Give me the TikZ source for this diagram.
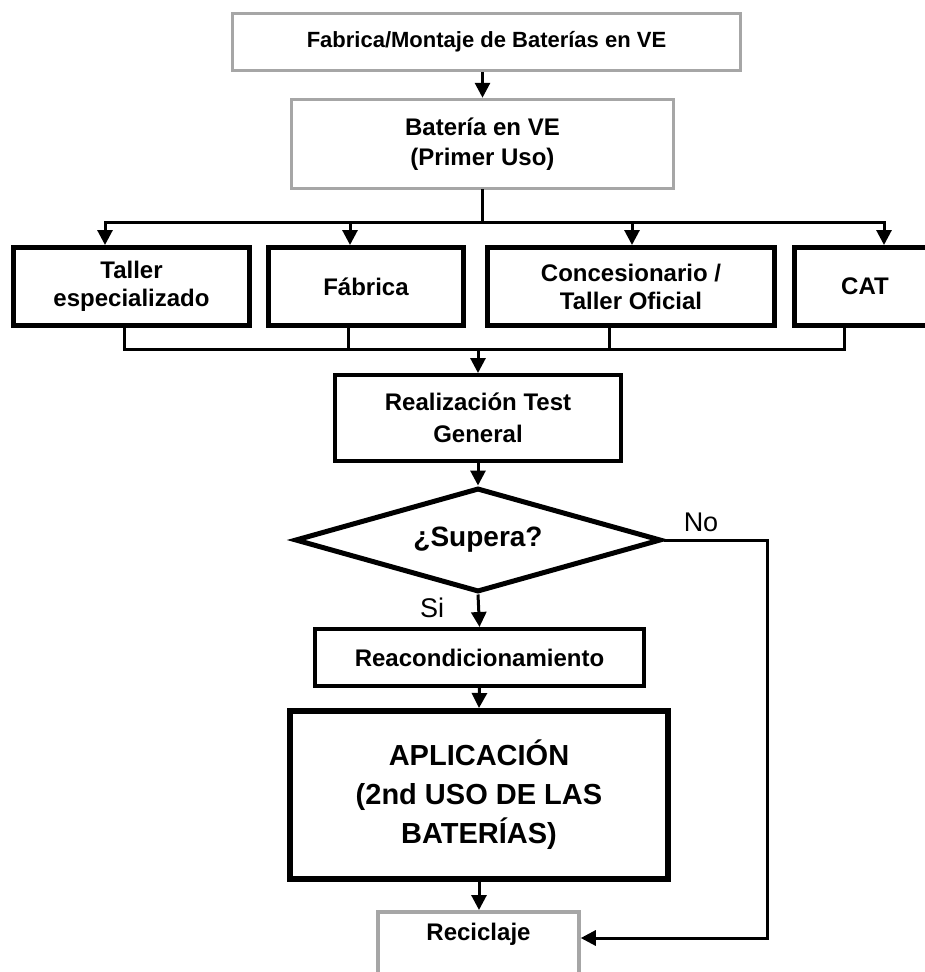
\documentclass[tikz,border=0pt]{standalone}
\usepackage{fontspec}
\setmainfont{Liberation Sans}
\usetikzlibrary{shapes.geometric,arrows.meta}
\definecolor{boxgray}{RGB}{166,166,166}
\tikzset{
  graybox/.style={draw=boxgray, line width=3.5pt, rectangle, align=center, inner sep=0pt,
    font=\bfseries\fontsize{24}{30}\selectfont},
  blackbox/.style={draw=black, line width=5pt, rectangle, align=center, inner sep=0pt,
    font=\bfseries\fontsize{24}{28}\selectfont},
  decision/.style={draw, diamond, line width=5pt, aspect=3.4, inner sep=0pt,
    font=\bfseries\fontsize{28}{32}\selectfont},
  link/.style={line width=3pt, line cap=rect},
  flow/.style={line width=3pt, -{Triangle[length=15pt,width=15pt]}},
  branch/.style={font=\fontsize{27}{30}\selectfont},
}
\begin{document}
\begin{tikzpicture}[x=1pt,y=-1pt]
    \useasboundingbox (0,0) rectangle (925,972);
    \clip (0,0) rectangle (925,972);
    % first use
    \node[graybox, minimum width=508, minimum height=57, font=\bfseries\fontsize{22}{26}\selectfont] (fab) at (486.5,42) {Fabrica/Montaje de Baterías en VE};
    \node[graybox, minimum width=382, minimum height=89] (bat) at (482.5,144) {Batería en VE\\(Primer Uso)};
    % where the battery goes
    \node[blackbox, minimum width=236, minimum height=78] (taller) at (131.5,286.5) {Taller\\especializado};
    \node[blackbox, minimum width=195, minimum height=78] (fabrica) at (366,286.5) {Fábrica};
    \node[blackbox, minimum width=287, minimum height=78] (conces) at (631,286.5) {Concesionario /\\Taller Oficial};
    \node[blackbox, minimum width=141, minimum height=78] (cat) at (865,286.5) {CAT};
    % test and decision
    \node[blackbox, line width=4pt, minimum width=286, minimum height=86, font=\bfseries\fontsize{24}{32}\selectfont] (test) at (478,418) {Realización Test\\General};
    \node[decision, minimum width=366, minimum height=104] (supera) at (478,540) {¿Supera?};
    \node[blackbox, line width=4pt, minimum width=329, minimum height=57] (reacond) at (479.5,657.5) {Reacondicionamiento};
    \node[blackbox, line width=6pt, minimum width=378, minimum height=168, font=\bfseries\fontsize{29}{39}\selectfont] (aplic) at (479,795) {APLICACIÓN\\(2nd USO DE LAS\\BATERÍAS)};
    \node[graybox, minimum width=201, minimum height=80, anchor=north] (recic) at (478.5,910) {Reciclaje\\\strut};
    % upper bus
    \coordinate (tb1) at (105,222);
    \coordinate (tb2) at (350,222);
    \coordinate (tb3) at (632,222);
    \coordinate (tb4) at (884,222);
    \draw[flow] (fab.south -| bat.north) -- (bat.north);
    \draw[link] (bat.south) -- (bat.south |- tb1);
    \draw[link] (tb1) -- (tb4);
    \foreach \c/\n in {tb1/taller, tb2/fabrica, tb3/conces, tb4/cat}
        \draw[flow] (\c) -- (\c |- \n.north);
    % lower bus
    \coordinate (bb1) at (124,349);
    \coordinate (bb2) at (348,349);
    \coordinate (bb3) at (609,349);
    \coordinate (bb4) at (844,349);
    \draw[link] (bb1 |- taller.south) -- (bb1) -- (bb4) -- (bb4 |- cat.south);
    \draw[link] (bb2 |- fabrica.south) -- (bb2);
    \draw[link] (bb3 |- conces.south) -- (bb3);
    \draw[flow] (test.north |- bb1) -- (test.north);
    % main line
    \draw[flow] (test.south) -- (supera.north);
    \draw[flow] (supera.south) -- (reacond.north);
    \draw[flow] (reacond.south) -- (aplic.north);
    \draw[flow] (aplic.south) -- (aplic.south |- recic.north);
    % rejected branch
    \coordinate (nocorner) at (767,540);
    \coordinate (noend) at (767,938);
    \draw[flow] (supera.east) -- (nocorner) -- (noend) -- (noend -| recic.east);
    \node[branch] (no) at (701,522) {No};
    \node[branch] (si) at (432,608) {Si};
\end{tikzpicture}
\end{document}
